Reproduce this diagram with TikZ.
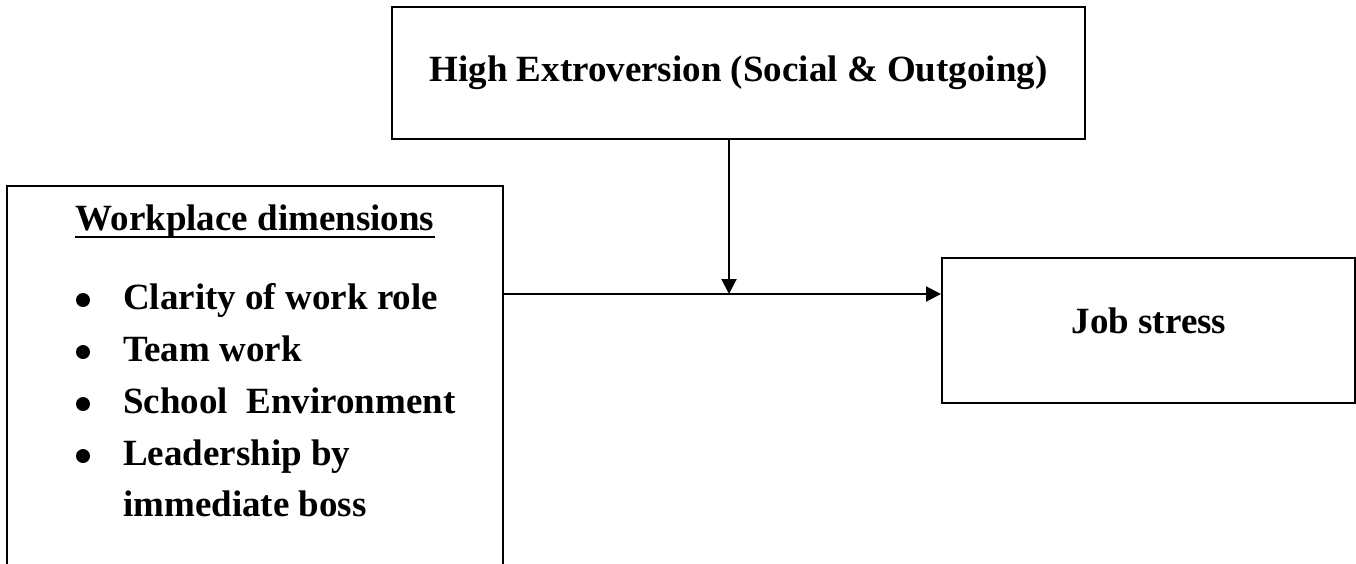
\documentclass[tikz,border=0pt]{standalone}
\usepackage{fontspec}
\setmainfont{Liberation Serif}
\usetikzlibrary{arrows.meta}
\begin{document}
\begin{tikzpicture}[x=1pt,y=-1pt,
  box/.style={draw=black,line width=2pt,rectangle,inner sep=0pt},
  lbl/.style={inner sep=0pt,font=\fontsize{37}{44}\selectfont\bfseries},
  bul/.style={circle,fill=black,inner sep=0pt,minimum size=14pt},
  uline/.style={line width=2pt},
  arr/.style={line width=2pt,-{Triangle[length=15pt,width=15pt]}}]
\useasboundingbox (0,0) rectangle (1356,563);
% boxes
\node[box,lbl,minimum width=693pt,minimum height=132pt] (top) at (738.5,73)
  {High Extroversion (Social \& Outgoing)};
\node[box,minimum width=496pt,minimum height=430pt,anchor=north west] (lb) at (6,185) {};
\node[box,minimum width=413pt,minimum height=145pt] (js) at (1148.5,330.5) {};
\node[lbl,anchor=base] (jst) at (1149,333) {Job stress};
% left box contents
\node[lbl,anchor=base] (hd) at (255,230) {Workplace dimensions};
\draw[uline] ([yshift=-7pt]hd.base west) -- ([yshift=-7pt]hd.base east);
\node[bul] (b1) at (83,300) {};
\node[lbl,anchor=base west] (t1) at (123,309) {Clarity of work role};
\node[bul] (b2) at (83,352) {};
\node[lbl,anchor=base west] (t2) at (123,361) {Team work};
\node[bul] (b3) at (83,404) {};
\node[lbl,anchor=base west] (t3) at (123,413) {School\ \ Environment};
\node[bul] (b4) at (83,456) {};
\node[lbl,anchor=base west] (t4) at (123,465) {Leadership by};
\node[lbl,anchor=base west] (t5) at (123,516) {immediate boss};
% connectors
\coordinate (m) at (729,294);
\draw[arr] (lb.east |- m) -- (js.west |- m);
\draw[arr] (top.south -| m) -- (m);
\end{tikzpicture}
\end{document}
